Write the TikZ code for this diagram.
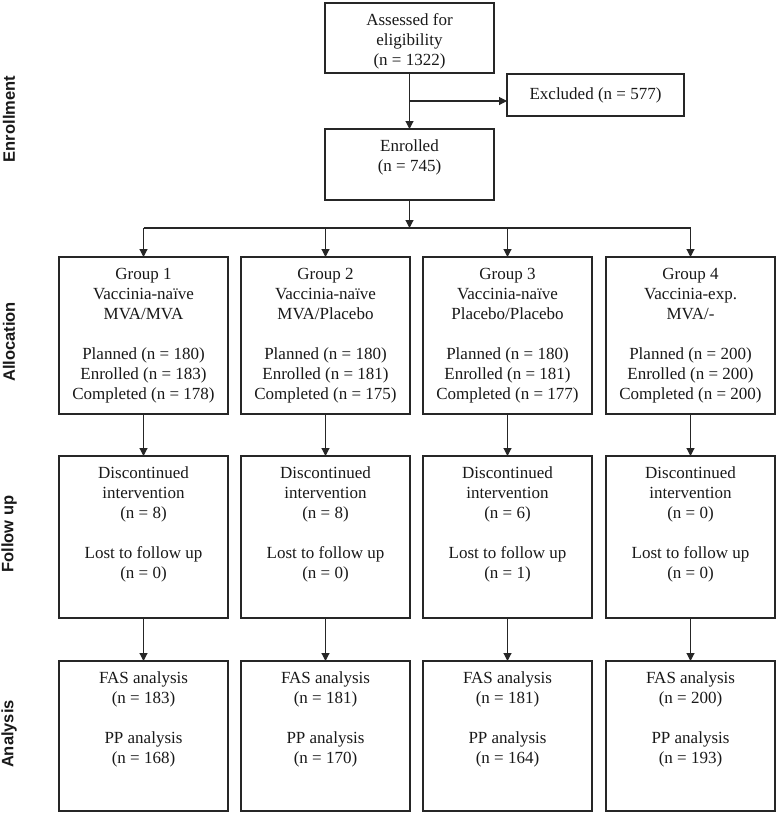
\documentclass[tikz,border=0pt]{standalone}
\usepackage{fontspec}
\setmainfont{Liberation Serif}
\newfontfamily\labelfont{Liberation Sans}
\usetikzlibrary{arrows.meta}
\newcommand{\bxt}[3]{\parbox[c][#2][t]{#1}{\centering\vspace*{8.5pt}\strut#3}}
\begin{document}
\begin{tikzpicture}[x=1pt,y=-1pt,
  box/.style={draw=black!85, line width=1.2pt, inner sep=0pt, outer sep=0pt,
              font=\fontsize{17}{20}\selectfont, text=black!90},
  ln/.style={draw=black!85, line width=1.1pt},
  arr/.style={ln, -{Triangle[length=8pt,width=8pt]}},
  lab/.style={rotate=90, font=\labelfont\bfseries\fontsize{16.5}{18}\selectfont, text=black!90}]
\useasboundingbox (0,0) rectangle (778,815);
\fill[white] (0,0) rectangle (778,815);

% side labels
\node[lab] (lenr) at (9,119) {Enrollment};
\node[lab] (lall) at (9,342) {Allocation};
\node[lab] (lfol) at (9,534) {Follow up};
\node[lab] (lana) at (9,734) {Analysis};

% top boxes
\node[box, anchor=north west] (assess) at (325,3) {\bxt{169pt}{70pt}{Assessed for\\eligibility\\(n = 1322)}};
\node[box, anchor=north west, minimum width=177pt, minimum height=42pt] (excl) at (507,74) {Excluded (n = 577)};
\node[box, anchor=north west] (enr) at (325,129) {\bxt{169pt}{71pt}{Enrolled\\(n = 745)}};

% allocation
\node[box, anchor=north west] (g1) at (59,257) {\bxt{169pt}{157pt}{Group 1\\Vaccinia-naïve\\MVA/MVA\\[20pt]Planned (n = 180)\\Enrolled (n = 183)\\Completed (n = 178)}};
\node[box, anchor=north west] (g2) at (241,257) {\bxt{169pt}{157pt}{Group 2\\Vaccinia-naïve\\MVA/Placebo\\[20pt]Planned (n = 180)\\Enrolled (n = 181)\\Completed (n = 175)}};
\node[box, anchor=north west] (g3) at (423,257) {\bxt{169pt}{157pt}{Group 3\\Vaccinia-naïve\\Placebo/Placebo\\[20pt]Planned (n = 180)\\Enrolled (n = 181)\\Completed (n = 177)}};
\node[box, anchor=north west] (g4) at (606,257) {\bxt{169pt}{157pt}{Group 4\\Vaccinia-exp.\\MVA/-\\[20pt]Planned (n = 200)\\Enrolled (n = 200)\\Completed (n = 200)}};

% follow up
\node[box, anchor=north west] (f1) at (59,456) {\bxt{169pt}{162pt}{Discontinued\\intervention\\(n = 8)\\[20pt]Lost to follow up\\(n = 0)}};
\node[box, anchor=north west] (f2) at (241,456) {\bxt{169pt}{162pt}{Discontinued\\intervention\\(n = 8)\\[20pt]Lost to follow up\\(n = 0)}};
\node[box, anchor=north west] (f3) at (423,456) {\bxt{169pt}{162pt}{Discontinued\\intervention\\(n = 6)\\[20pt]Lost to follow up\\(n = 1)}};
\node[box, anchor=north west] (f4) at (606,456) {\bxt{169pt}{162pt}{Discontinued\\intervention\\(n = 0)\\[20pt]Lost to follow up\\(n = 0)}};

% analysis
\node[box, anchor=north west] (a1) at (59,661) {\bxt{169pt}{150pt}{FAS analysis\\(n = 183)\\[20pt]PP analysis\\(n = 168)}};
\node[box, anchor=north west] (a2) at (241,661) {\bxt{169pt}{150pt}{FAS analysis\\(n = 181)\\[20pt]PP analysis\\(n = 170)}};
\node[box, anchor=north west] (a3) at (423,661) {\bxt{169pt}{150pt}{FAS analysis\\(n = 181)\\[20pt]PP analysis\\(n = 164)}};
\node[box, anchor=north west] (a4) at (606,661) {\bxt{169pt}{150pt}{FAS analysis\\(n = 200)\\[20pt]PP analysis\\(n = 193)}};

% connectors
\draw[arr] (assess.south) -- (enr.north);
\coordinate (br) at (409.5,101);
\draw[arr] (br) -- (br -| excl.west);
\coordinate (sp) at (409.5,228);
\draw[arr] (enr.south) -- (sp);
\coordinate (hl) at (143.5,228);
\coordinate (hr) at (690.5,228);
\draw[ln] (hl) -- (hr);
\foreach \i in {1,2,3,4}{
  \draw[arr] (g\i.north |- sp) -- (g\i.north);
  \draw[arr] (g\i.south) -- (f\i.north);
  \draw[arr] (f\i.south) -- (a\i.north);
}
\end{tikzpicture}
\end{document}
